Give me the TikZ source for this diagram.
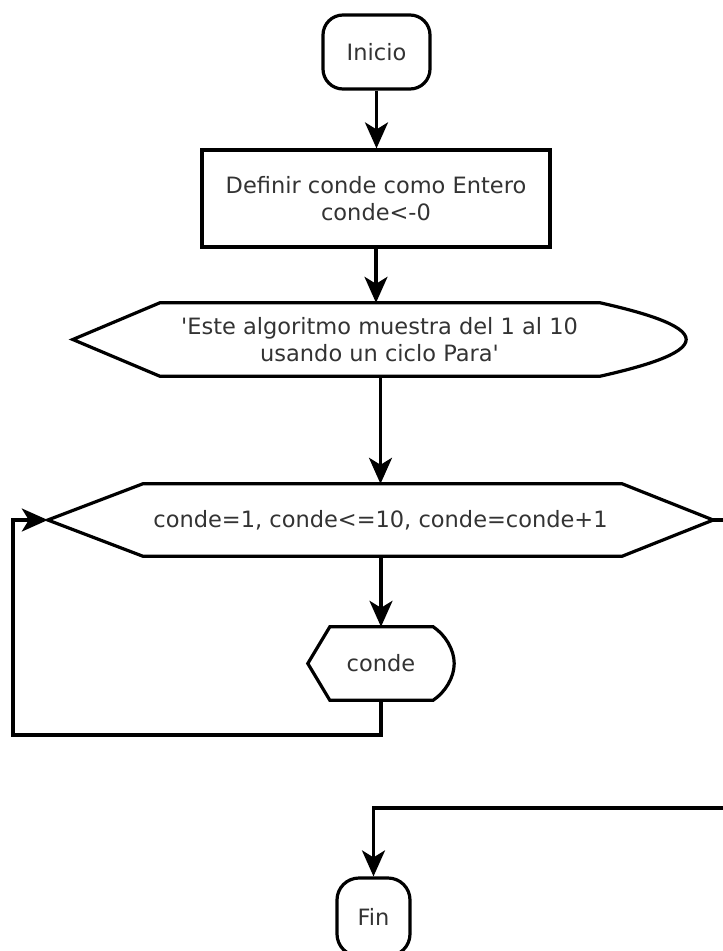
\documentclass[tikz,border=0pt]{standalone}
\usepackage{fontspec}
\setmainfont{DejaVu Sans}
\usetikzlibrary{arrows.meta,calc}

\begin{document}
\begin{tikzpicture}[x=1pt,y=-1pt,
  txt/.style={font=\fontsize{22.5}{27}\selectfont, text=black!80, align=center, inner sep=0pt},
  term/.style={txt, draw, line width=3.2pt, rounded corners=20pt},
  proc/.style={txt, draw, line width=3.2pt},
  ghost/.style={txt, draw=none},
  outline/.style={line width=3.2pt, line join=miter},
  flow/.style={line width=3.2pt, -{Stealth[length=26pt,width=23pt,inset=7pt]}}
]
\useasboundingbox (0,0) rectangle (723,951);
\clip (0,0) rectangle (723,951);

% Start
\node[term, minimum width=107pt, minimum height=74pt] (inicio) at (376.5,52) {Inicio};

% Declaration
\node[proc, minimum width=348pt, minimum height=97pt] (def) at (376,198.5)
  {Definir conde como Entero\\conde<-0};

% Message (display shape)
\node[ghost, minimum width=613pt, minimum height=73pt] (msg) at (379.5,339.5)
  {\textquotesingle Este algoritmo muestra del 1 al 10\\usando un ciclo Para\textquotesingle};
\draw[outline] (msg.west) -- ($(msg.north west)+(87,0)$) -- ($(msg.north east)+(-86,0)$)
  .. controls ($(msg.north east)+(-46,9)$) and ($(msg.east)+(0,-15)$) .. (msg.east)
  .. controls ($(msg.east)+(0,15)$) and ($(msg.south east)+(-46,-9)$) .. ($(msg.south east)+(-86,0)$)
  -- ($(msg.south west)+(87,0)$) -- cycle;

% Loop header (hexagon)
\node[ghost, minimum width=665pt, minimum height=72pt] (loop) at (380.5,520)
  {conde=1, conde<=10, conde=conde+1};
\draw[outline] (loop.west) -- ($(loop.north west)+(95,0)$) -- ($(loop.north east)+(-91,0)$)
  -- (loop.east) -- ($(loop.south east)+(-91,0)$) -- ($(loop.south west)+(95,0)$) -- cycle;

% Output (display shape)
\node[ghost, minimum width=146pt, minimum height=73pt] (out) at (381,663.5) {conde};
\draw[outline] (out.west) -- ($(out.north west)+(22,0)$) -- ($(out.north east)+(-21,0)$)
  .. controls ($(out.north east)+(-9,8)$) and ($(out.east)+(0,-14)$) .. (out.east)
  .. controls ($(out.east)+(0,14)$) and ($(out.south east)+(-9,-8)$) .. ($(out.south east)+(-21,0)$)
  -- ($(out.south west)+(22,0)$) -- cycle;

% End
\node[term, rounded corners=22pt, minimum width=73pt, minimum height=78pt] (fin) at (373.5,917) {Fin};

% Routing points
\coordinate (back) at (13,735);
\coordinate (exit) at (745,808);

% Connectors
\draw[flow] (inicio.south) -- (inicio.south |- def.north);
\draw[flow] (def.south) -- (def.south |- msg.north);
\draw[flow] (loop.north |- msg.south) -- (loop.north);
\draw[flow] (loop.south) -- (loop.south -| out.north) -- (out.north);
\draw[flow] (out.south) |- (back) |- (loop.west);
\draw[flow] (loop.east) -| (exit) -| (fin.north);
\end{tikzpicture}
\end{document}
